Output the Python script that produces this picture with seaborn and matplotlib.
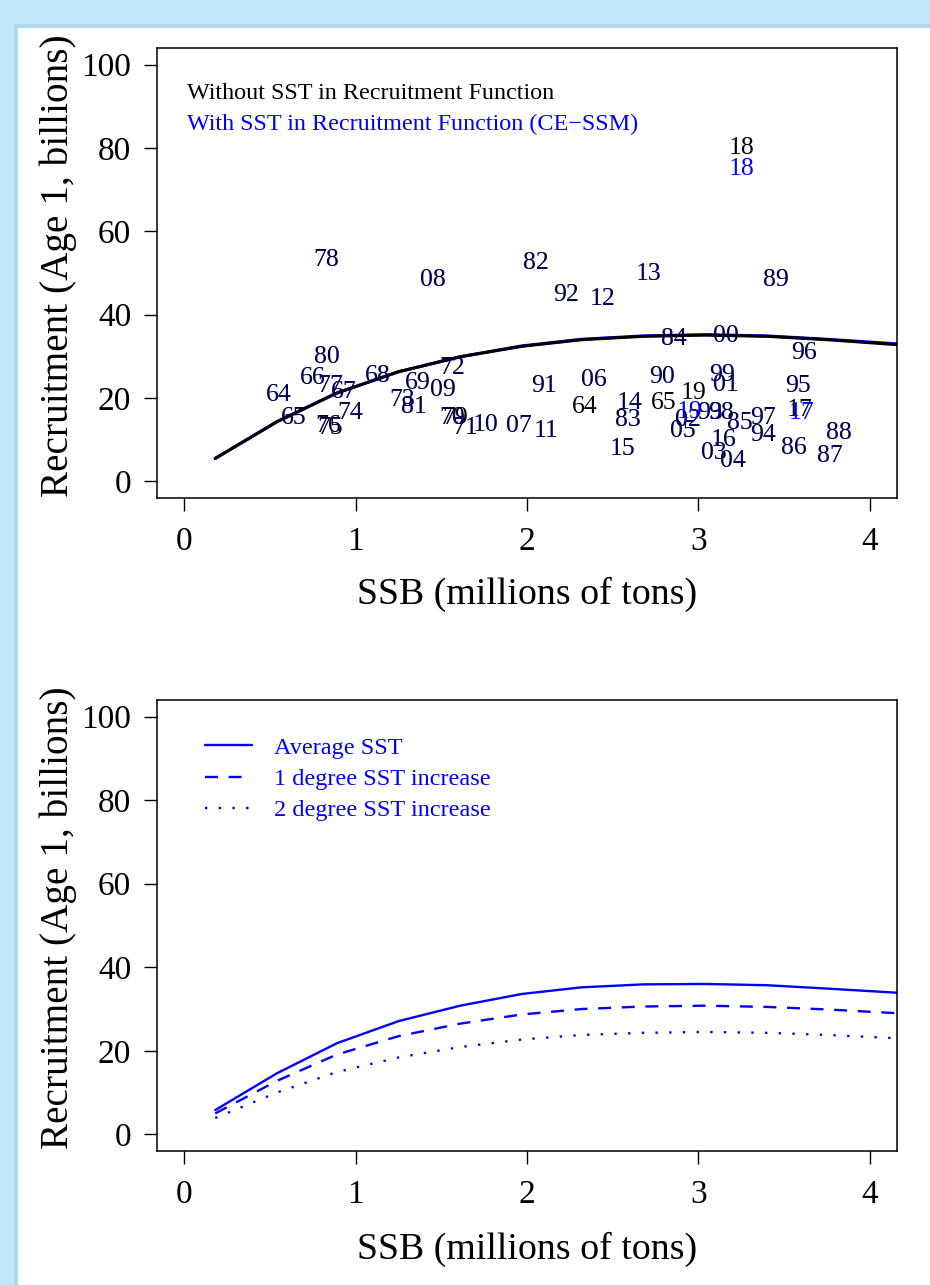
import numpy as np
import pandas as pd
import matplotlib
matplotlib.use("Agg")
import matplotlib.pyplot as plt
import seaborn as sns
from matplotlib.patches import Rectangle

# ---------------- data ----------------
# Year labels (top panel) -- model without SST (black)
black_years = ["18", "78", "08", "82", "92", "12", "13", "89", "84", "00", "96",
               "80", "66", "77", "67", "68", "64", "65", "76", "75", "74", "73",
               "81", "69", "72", "09", "70", "79", "71", "10", "07", "91", "11",
               "06", "64", "14", "83", "15", "90", "65", "99", "01", "19", "02",
               "93", "98", "85", "05", "97", "94", "16", "03", "04", "95", "17",
               "86", "88", "87"]
black_ssb = [3.25, 0.83, 1.45, 2.05, 2.23, 2.44, 2.71, 3.45, 2.86, 3.16, 3.62,
             0.83, 0.75, 0.85, 0.93, 1.13, 0.55, 0.64, 0.84, 0.85, 0.97, 1.27,
             1.34, 1.36, 1.56, 1.51, 1.56, 1.58, 1.64, 1.76, 1.95, 2.10, 2.11,
             2.39, 2.34, 2.60, 2.59, 2.56, 2.79, 2.80, 3.14, 3.16, 2.97, 2.94,
             3.07, 3.13, 3.24, 2.91, 3.38, 3.38, 3.15, 3.09, 3.20, 3.58, 3.59,
             3.56, 3.82, 3.77]
black_rec = [80.1, 53.1, 48.3, 52.4, 44.7, 43.8, 49.8, 48.3, 34.2, 34.9, 30.9,
             29.9, 24.9, 23.0, 21.5, 25.4, 20.8, 15.1, 13.2, 12.9, 16.5, 19.6,
             17.9, 23.7, 27.3, 22.0, 15.3, 15.1, 12.9, 13.6, 13.4, 23.0, 12.0,
             24.4, 17.9, 18.7, 14.8, 7.7, 25.1, 18.9, 25.6, 23.2, 21.3, 14.8,
             16.5, 16.5, 14.1, 12.0, 15.3, 11.2, 10.0, 6.9, 4.8, 23.0, 17.0,
             7.9, 11.5, 6.0]

# Year labels (top panel) -- model with SST, CE-SSM (blue)
blue_years = ["18", "78", "08", "82", "92", "12", "13", "89", "84", "00", "96",
              "80", "66", "77", "67", "68", "64", "65", "76", "74", "73",
              "81", "69", "72", "09", "70", "71", "10", "07", "91", "11",
              "06", "14", "83", "15", "90", "99", "01", "19", "02",
              "93", "98", "85", "05", "97", "94", "16", "03", "04", "95", "17",
              "86", "88", "87"]
blue_ssb = [3.25, 0.83, 1.45, 2.05, 2.23, 2.44, 2.71, 3.45, 2.86, 3.16, 3.62,
            0.83, 0.75, 0.85, 0.93, 1.13, 0.55, 0.64, 0.84, 0.97, 1.27,
            1.34, 1.36, 1.56, 1.51, 1.56, 1.64, 1.76, 1.95, 2.10, 2.11,
            2.39, 2.60, 2.59, 2.56, 2.79, 3.14, 3.16, 2.95, 2.94,
            3.07, 3.13, 3.24, 2.91, 3.38, 3.38, 3.15, 3.09, 3.20, 3.58, 3.60,
            3.56, 3.82, 3.77]
blue_rec = [74.9, 53.1, 48.3, 52.4, 44.7, 43.8, 49.8, 48.3, 34.2, 34.9, 30.9,
            29.9, 24.9, 23.0, 21.5, 25.4, 20.8, 15.1, 13.2, 16.5, 19.6,
            17.9, 23.7, 27.3, 22.0, 15.3, 12.9, 13.6, 13.4, 23.0, 12.0,
            24.4, 18.7, 14.8, 7.7, 25.1, 25.6, 23.2, 16.7, 14.8,
            16.5, 16.5, 14.1, 12.0, 15.3, 11.2, 10.0, 6.9, 4.8, 23.0, 16.3,
            7.9, 11.5, 6.0]

# Stock-recruitment curves
curve_ssb = [0.18, 0.54, 0.89, 1.25, 1.61, 1.97, 2.32, 2.68, 3.04, 3.40, 3.75, 4.16]
curve_without_sst = [5.5, 14.3, 21.2, 26.3, 29.9, 32.4, 34.0, 34.8, 35.1, 34.8, 34.0, 32.8]
curve_with_sst = [5.5, 14.3, 21.2, 26.3, 29.9, 32.5, 34.1, 34.9, 35.2, 34.9, 34.1, 33.0]

# Bottom panel scenarios
scenario_names = ["Average SST", "1 degree SST increase", "2 degree SST increase"]
rec_avg_sst = [5.8, 14.6, 21.8, 27.1, 30.8, 33.6, 35.2, 35.9, 36.0, 35.7, 34.9, 33.9]
rec_1deg = [5.0, 12.8, 19.1, 23.5, 26.5, 28.7, 30.0, 30.6, 30.8, 30.5, 29.9, 29.0]
rec_2deg = [3.9, 10.0, 14.9, 18.4, 20.9, 22.7, 23.8, 24.3, 24.5, 24.3, 23.8, 23.0]

x_ticks = [0, 1, 2, 3, 4]
y_ticks = [0, 20, 40, 60, 80, 100]
x_label = "SSB (millions of tons)"
y_label = "Recruitment (Age 1, billions)"
legend_top = ["Without SST in Recruitment Function",
              "With SST in Recruitment Function (CE\u2212SSM)"]

# ---------------- style ----------------
sns.set_theme(style="ticks")
plt.rcParams["font.family"] = ["Liberation Serif", "DejaVu Serif"]
plt.rcParams["axes.linewidth"] = 1.0

W, H = 930, 1285
fig = plt.figure(figsize=(W / 100, H / 100), dpi=100, facecolor="#c3e7fa")
# panel shadow + white page
fig.patches.append(Rectangle((14 / W, 0), 1, (H - 24) / H, transform=fig.transFigure,
                             facecolor="#add8ee", edgecolor="none", zorder=-20))
fig.patches.append(Rectangle((18 / W, 0), 1, (H - 28) / H, transform=fig.transFigure,
                             facecolor="white", edgecolor="none", zorder=-10))

ax1 = fig.add_axes([157 / W, 1 - 498 / H, 740 / W, 450 / H])
ax2 = fig.add_axes([157 / W, 1 - 1151 / H, 740 / W, 451 / H])

# ---------------- top panel ----------------
df_curve = pd.DataFrame({
    "ssb": curve_ssb * 2,
    "rec": curve_with_sst + curve_without_sst,
    "model": ["with"] * len(curve_ssb) + ["without"] * len(curve_ssb),
})
sns.lineplot(data=df_curve, x="ssb", y="rec", hue="model", hue_order=["with", "without"],
             palette={"with": "blue", "without": "black"}, linewidth=2.2,
             legend=False, ax=ax1, sort=True)

black_pos = {(yr, round(xv, 2), round(yv, 1))
             for yr, xv, yv in zip(black_years, black_ssb, black_rec)}
for yr, xv, yv in zip(black_years, black_ssb, black_rec):
    ax1.text(xv, yv, yr, color="black", fontsize=18.5, ha="center", va="center")
for yr, xv, yv in zip(blue_years, blue_ssb, blue_rec):
    shared = (yr, round(xv, 2), round(yv, 1)) in black_pos
    ax1.text(xv, yv, yr, color="blue", alpha=0.35 if shared else 1.0,
             fontsize=18.5, ha="center", va="center")

ax1.text(0.041, 0.898, legend_top[0], transform=ax1.transAxes, fontsize=17.4,
         color="black", va="center", ha="left")
ax1.text(0.041, 0.831, legend_top[1], transform=ax1.transAxes, fontsize=17.4,
         color="blue", va="center", ha="left")

# ---------------- bottom panel ----------------
df_sc = pd.DataFrame({
    "ssb": curve_ssb * 3,
    "rec": rec_avg_sst + rec_1deg + rec_2deg,
    "scenario": [scenario_names[0]] * len(curve_ssb)
                + [scenario_names[1]] * len(curve_ssb)
                + [scenario_names[2]] * len(curve_ssb),
})
sns.lineplot(data=df_sc, x="ssb", y="rec", style="scenario", style_order=scenario_names,
             dashes={scenario_names[0]: "", scenario_names[1]: (5.5, 4.5),
                     scenario_names[2]: (1, 4.8)},
             color="blue", linewidth=1.7, ax=ax2)
handles, labels = ax2.get_legend_handles_labels()
leg = ax2.legend(handles, labels, loc="upper left", bbox_to_anchor=(0.065, 0.918),
                 frameon=False, fontsize=17.5, handlelength=1.95, handletextpad=0.9,
                 labelspacing=0.38, borderpad=0, borderaxespad=0, labelcolor="blue")

# ---------------- axes styling ----------------
for ax in (ax1, ax2):
    ax.set_facecolor("white")
    ax.set_xlim(-0.16, 4.16)
    ax.set_ylim(-4, 104)
    ax.set_xticks(x_ticks)
    ax.set_yticks(y_ticks)
    ax.set_xticklabels([str(v) for v in x_ticks])
    ax.set_yticklabels([str(v) for v in y_ticks])
    ax.tick_params(axis="both", direction="out", length=9.5, width=1.0,
                   labelsize=24, color="black", labelcolor="black")
    ax.tick_params(axis="x", pad=11)
    ax.tick_params(axis="y", pad=9)
    for s in ax.spines.values():
        s.set_visible(True)
        s.set_color("black")
        s.set_linewidth(1.1)
    ax.set_xlabel(x_label, fontsize=27.3, color="black")
    ax.set_ylabel(y_label, fontsize=28.3, color="black")
    ax.grid(False)

ax1.xaxis.set_label_coords(0.5, -0.175)
ax1.yaxis.set_label_coords(-0.108, 0.517)
ax2.xaxis.set_label_coords(0.5, -0.178)
ax2.yaxis.set_label_coords(-0.108, 0.517)

fig.savefig("out.png", dpi=100, facecolor=fig.get_facecolor())
